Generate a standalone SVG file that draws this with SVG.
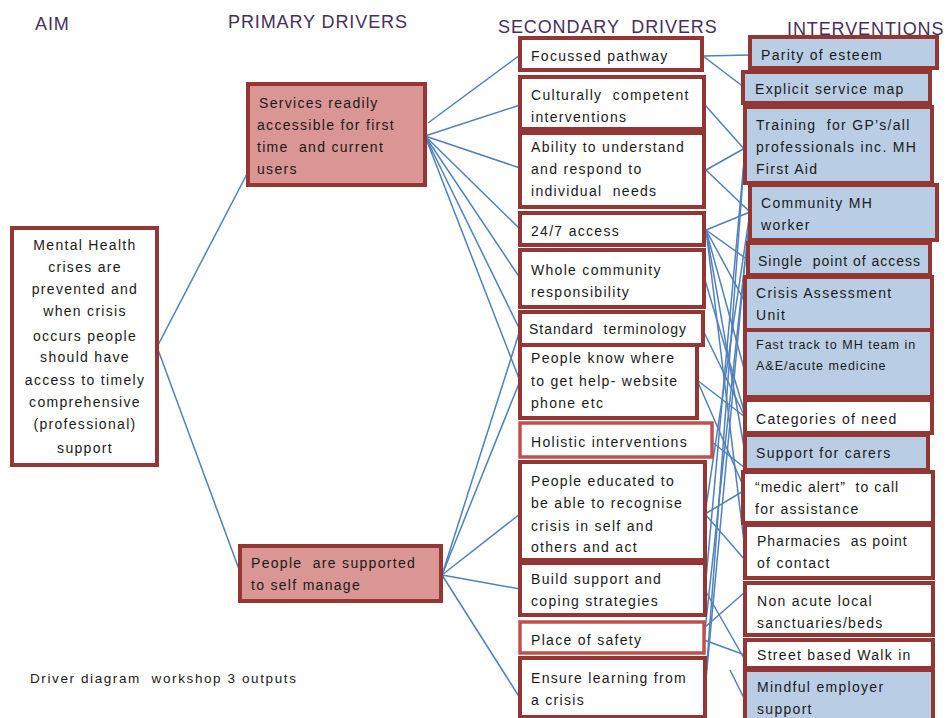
<svg xmlns="http://www.w3.org/2000/svg" width="950" height="718" viewBox="0 0 950 718">
<style>
text{white-space:pre}
.title{font-family:"Liberation Sans",Arial,sans-serif;font-size:18px;fill:#44305a;letter-spacing:0.9px}
.t{font-family:"Liberation Sans",Arial,sans-serif;font-size:14px;letter-spacing:1.3px;fill:#1a1a1a}
.s{font-size:12.5px;letter-spacing:1px}
.c{text-anchor:middle}
.aim{fill:#fff;stroke:#943634;stroke-width:4}
.pri{fill:#d99694;stroke:#943634;stroke-width:4}
.sec{fill:#fff;stroke:#943634;stroke-width:4}
.sec2{fill:#fff;stroke:#c0504d;stroke-width:3.5}
.int{fill:#b9cde5;stroke:#943634;stroke-width:4}
.intw{fill:#fff;stroke:#943634;stroke-width:4}
#connectors line{stroke:#4f81bd;stroke-width:1.5;fill:none}
</style>
<rect width="950" height="718" fill="#fff"/>

<g id="titles">
<text class="title" x="35" y="30">AIM</text>
<text class="title" x="228" y="28">PRIMARY DRIVERS</text>
<text class="title" x="498" y="33">SECONDARY  DRIVERS</text>
<text class="title" x="787" y="35">INTERVENTIONS</text>
</g>

<g id="connectors">
<!-- aim to primary -->
<line x1="157" y1="347" x2="248" y2="172"/>
<line x1="157" y1="347" x2="240" y2="572"/>
<!-- primary 1 -->
<line x1="428" y1="123" x2="520" y2="55"/>
<line x1="425" y1="136" x2="520" y2="105"/>
<line x1="425" y1="136" x2="520" y2="168"/>
<line x1="425" y1="136" x2="520" y2="229"/>
<line x1="425" y1="136" x2="520" y2="278"/>
<line x1="425" y1="136" x2="520" y2="330"/>
<line x1="425" y1="136" x2="520" y2="381"/>
<!-- primary 2 -->
<line x1="442" y1="575" x2="520" y2="330"/>
<line x1="442" y1="575" x2="520" y2="381"/>
<line x1="442" y1="575" x2="520" y2="514"/>
<line x1="442" y1="575" x2="520" y2="589"/>
<line x1="442" y1="575" x2="520" y2="698"/>
<!-- secondary to interventions -->
<line x1="703" y1="56" x2="750" y2="55"/>
<line x1="703" y1="56" x2="745" y2="88"/>
<line x1="705" y1="105" x2="745" y2="150"/>
<line x1="706" y1="170" x2="745" y2="148"/>
<line x1="706" y1="170" x2="750" y2="212"/>
<line x1="706" y1="230" x2="750" y2="212"/>
<line x1="706" y1="230" x2="748" y2="260"/>
<line x1="706" y1="230" x2="745" y2="302"/>
<line x1="706" y1="230" x2="745" y2="372"/>
<line x1="706" y1="230" x2="745" y2="453"/>
<line x1="706" y1="230" x2="745" y2="550"/>
<line x1="705" y1="280" x2="745" y2="414"/>
<line x1="703" y1="330" x2="745" y2="417"/>
<line x1="697" y1="380" x2="745" y2="417"/>
<line x1="697" y1="380" x2="745" y2="490"/>
<line x1="712" y1="442" x2="745" y2="468"/>
<line x1="705" y1="514" x2="745" y2="490"/>
<line x1="705" y1="514" x2="745" y2="560"/>
<line x1="705" y1="514" x2="750" y2="212"/>
<line x1="705" y1="590" x2="745" y2="660"/>
<line x1="705" y1="590" x2="745" y2="150"/>
<line x1="704" y1="628" x2="745" y2="592"/>
<line x1="704" y1="640" x2="745" y2="655"/>
<line x1="704" y1="640" x2="750" y2="215"/>
<line x1="705" y1="690" x2="745" y2="150"/>
<line x1="705" y1="690" x2="745" y2="262"/>
<line x1="730" y1="670" x2="745" y2="700"/>
</g>

<g id="aim">
<rect class="aim" x="12" y="228" width="145" height="237"/>
<text class="t c" x="85" y="250">Mental Health</text>
<text class="t c" x="85" y="272">crises are</text>
<text class="t c" x="85" y="294">prevented and</text>
<text class="t c" x="85" y="316">when crisis</text>
<text class="t c" x="85" y="341">occurs people</text>
<text class="t c" x="85" y="362">should have</text>
<text class="t c" x="85" y="385">access to timely</text>
<text class="t c" x="85" y="407">comprehensive</text>
<text class="t c" x="85" y="429">(professional)</text>
<text class="t c" x="85" y="453">support</text>
</g>

<g id="primary1">
<rect class="pri" x="248" y="84" width="177" height="101"/>
<text class="t" x="259" y="108">Services readily</text>
<text class="t" x="257" y="130">accessible for first</text>
<text class="t" x="257" y="152">time  and current</text>
<text class="t" x="257" y="174">users</text>
</g>
<g id="primary2">
<rect class="pri" x="240" y="546" width="201" height="55"/>
<text class="t" x="251" y="568">People  are supported</text>
<text class="t" x="251" y="590">to self manage</text>
</g>

<g id="sec-focussed"><rect class="sec" x="520" y="38" width="182" height="32"/><text class="t" x="531" y="61">Focussed pathway</text></g>
<g id="sec-cultural"><rect class="sec" x="520" y="77" width="184" height="52"/><text class="t" x="531" y="100">Culturally  competent</text><text class="t" x="531" y="122">interventions</text></g>
<g id="sec-ability"><rect class="sec" x="520" y="133" width="184" height="74"/><text class="t" x="531" y="152">Ability to understand</text><text class="t" x="531" y="174">and respond to</text><text class="t" x="531" y="196">individual  needs</text></g>
<g id="sec-247"><rect class="sec" x="520" y="213" width="184" height="32"/><text class="t" x="531" y="236">24/7 access</text></g>
<g id="sec-whole"><rect class="sec" x="520" y="250" width="184" height="57"/><text class="t" x="531" y="275">Whole community</text><text class="t" x="531" y="297">responsibility</text></g>
<g id="sec-standard"><rect class="sec" x="520" y="312" width="183" height="33"/><text class="t" x="529" y="334" style="letter-spacing:1px">Standard  terminology</text></g>
<g id="sec-knowwhere"><rect class="sec" x="520" y="345" width="177" height="73"/><text class="t" x="531" y="363">People know where</text><text class="t" x="531" y="386">to get help- website</text><text class="t" x="531" y="408">phone etc</text></g>
<g id="sec-holistic"><rect class="sec2" x="520" y="423" width="192" height="34"/><text class="t" x="531" y="447">Holistic interventions</text></g>
<g id="sec-educated"><rect class="sec" x="520" y="462" width="185" height="98"/><text class="t" x="531" y="486">People educated to</text><text class="t" x="531" y="508">be able to recognise</text><text class="t" x="531" y="531">crisis in self and</text><text class="t" x="531" y="552">others and act</text></g>
<g id="sec-build"><rect class="sec" x="520" y="563" width="185" height="52"/><text class="t" x="531" y="584">Build support and</text><text class="t" x="531" y="606">coping strategies</text></g>
<g id="sec-safety"><rect class="sec2" x="520" y="622" width="184" height="31"/><text class="t" x="531" y="645">Place of safety</text></g>
<g id="sec-learning"><rect class="sec" x="520" y="658" width="185" height="59"/><text class="t" x="531" y="683">Ensure learning from</text><text class="t" x="531" y="705">a crisis</text></g>

<g id="int-parity"><rect class="int" x="750" y="37" width="187" height="31"/><text class="t" x="761" y="60">Parity of esteem</text></g>
<g id="int-map"><rect class="int" x="743" y="72" width="187" height="31"/><text class="t" x="755" y="94">Explicit service map</text></g>
<g id="int-training"><rect class="int" x="745" y="107" width="187" height="76"/><text class="t" x="756" y="130">Training  for GP’s/all</text><text class="t" x="756" y="152">professionals inc. MH</text><text class="t" x="756" y="174">First Aid</text></g>
<g id="int-community"><rect class="int" x="750" y="185" width="187" height="55"/><text class="t" x="761" y="208">Community MH</text><text class="t" x="761" y="230">worker</text></g>
<g id="int-single"><rect class="int" x="748" y="243" width="182" height="32"/><text class="t" x="758" y="266" style="letter-spacing:1px">Single  point of access</text></g>
<g id="int-crisis"><rect class="int" x="745" y="277" width="187" height="53"/><text class="t" x="756" y="298">Crisis Assessment</text><text class="t" x="756" y="320">Unit</text></g>
<g id="int-fasttrack"><rect class="int" x="745" y="330" width="187" height="67"/><text class="t s" x="756" y="349">Fast track to MH team in</text><text class="t s" x="756" y="370">A&amp;E/acute medicine</text></g>
<g id="int-categories"><rect class="intw" x="745" y="400" width="187" height="33"/><text class="t" x="756" y="424">Categories of need</text></g>
<g id="int-carers"><rect class="int" x="745" y="435" width="183" height="35"/><text class="t" x="756" y="458">Support for carers</text></g>
<g id="int-medic"><rect class="intw" x="743" y="472" width="190" height="51"/><text class="t" x="755" y="492" style="letter-spacing:1px">“medic alert”  to call</text><text class="t" x="755" y="514">for assistance</text></g>
<g id="int-pharmacies"><rect class="intw" x="745" y="525" width="188" height="53"/><text class="t" x="757" y="546" style="letter-spacing:1px">Pharmacies  as point</text><text class="t" x="757" y="568">of contact</text></g>
<g id="int-nonacute"><rect class="intw" x="745" y="583" width="188" height="52"/><text class="t" x="757" y="606">Non acute local</text><text class="t" x="757" y="628">sanctuaries/beds</text></g>
<g id="int-street"><rect class="intw" x="745" y="640" width="188" height="28"/><text class="t" x="757" y="660">Street based Walk in</text></g>
<g id="int-mindful"><rect class="int" x="745" y="670" width="188" height="52"/><text class="t" x="757" y="692">Mindful employer</text><text class="t" x="757" y="714">support</text></g>

<text class="t" x="30" y="683" style="font-size:13.5px;letter-spacing:1.6px">Driver diagram  workshop 3 outputs</text>
</svg>
